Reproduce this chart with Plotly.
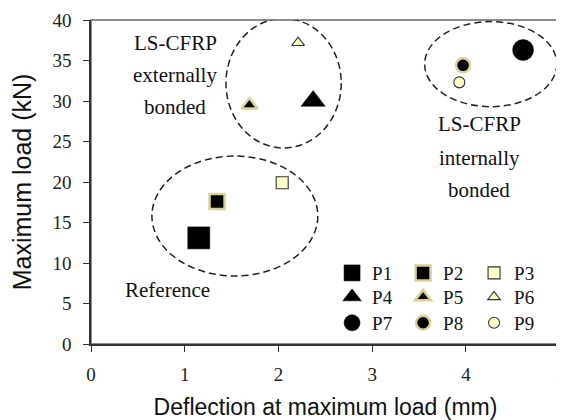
import plotly.graph_objects as go

# ---- data ----
names = ["P1", "P2", "P3", "P4", "P5", "P6", "P7", "P8", "P9"]
deflection = [1.15, 1.345, 2.04, 2.37, 1.69, 2.21, 4.61, 3.97, 3.93]
max_load = [13.1, 17.6, 19.9, 30.0, 29.5, 37.2, 36.3, 34.4, 32.3]

x_ticks = [0, 1, 2, 3, 4, 5]
y_ticks = [0, 5, 10, 15, 20, 25, 30, 35, 40]

# group outlines (data extents: x0, x1, y0, y1)
group_reference = (0.65, 2.42, 8.4, 23.2)
group_external = (1.44, 2.67, 24.2, 40.2)
group_internal = (3.56, 4.97, 29.3, 39.8)

# ---- styles ----
BEIGE = "#ffffc8"
RING = "#d8d19a"
symbols = ["square"] * 3 + ["triangle-up"] * 3 + ["circle"] * 3
sizes = [22, 15, 12, 21, 14, 11, 21, 14, 11]
fills = ["black", "black", BEIGE] * 3
line_colors = ["black", RING, "#333333"] * 3
line_widths = [0.5, 2.5, 1.1] * 3
legend_ids = ["legend"] * 3 + ["legend2"] * 3 + ["legend3"] * 3

SERIF = "Liberation Serif, Times New Roman, serif"
SANS = "Liberation Sans, Arial, sans-serif"

fig = go.Figure()
for i, n in enumerate(names):
    fig.add_trace(go.Scatter(
        x=[deflection[i]], y=[max_load[i]], mode="markers", name=n,
        legend=legend_ids[i],
        marker=dict(symbol=symbols[i], size=sizes[i], color=fills[i],
                    line=dict(color=line_colors[i], width=line_widths[i])),
    ))

for g in (group_reference, group_external, group_internal):
    fig.add_shape(type="circle", xref="x", yref="y",
                  x0=g[0], x1=g[1], y0=g[2], y1=g[3],
                  line=dict(color="#222222", width=1.5, dash="7px,4px"))

# frame (top/right lighter)
fig.add_shape(type="rect", xref="paper", yref="paper", x0=0, x1=1, y0=0, y1=1,
              line=dict(color="#8c8c8c", width=2), layer="below")

def note(text, x, y):
    fig.add_annotation(text=text, x=x, y=y, xref="x", yref="y", showarrow=False,
                       font=dict(family=SERIF, size=21, color="#111111"))

note("LS-CFRP", 0.90, 37.2)
note("externally", 0.90, 33.2)
note("bonded", 0.90, 29.3)
note("LS-CFRP", 4.14, 27.2)
note("internally", 4.14, 23.0)
note("bonded", 4.14, 19.0)
note("Reference", 0.82, 6.7)

leg_common = dict(orientation="h", x=0.514, xanchor="left", yanchor="middle",
                  bgcolor="rgba(0,0,0,0)", entrywidth=26, entrywidthmode="pixels",
                  font=dict(family=SERIF, size=19, color="#111111"),
                  itemclick=False, itemdoubleclick=False)

# page body has an 8px margin; size the figure so it fits the 564x420 window
fig.update_layout(
    template="none",
    width=556, height=412,
    margin=dict(l=83, r=4, t=12, b=76, autoexpand=False),
    paper_bgcolor="white", plot_bgcolor="white",
    showlegend=True,
    legend=dict(y=0.219, **leg_common),
    legend2=dict(y=0.145, **leg_common),
    legend3=dict(y=0.065, **leg_common),
    xaxis=dict(
        range=[0, 5.004], tickvals=x_ticks, ticktext=[str(v) for v in x_ticks],
        automargin=False, ticklabeloverflow="allow",
        showgrid=False, zeroline=False, showline=True, linecolor="#333333", linewidth=1.5,
        ticks="outside", ticklen=6, tickcolor="#333333", ticklabelstandoff=6,
        tickfont=dict(family=SERIF, size=19, color="#222222"),
        title=dict(text="Deflection at maximum load (mm)", standoff=16,
                   font=dict(family=SANS, size=23, color="#111111")),
    ),
    yaxis=dict(
        range=[0, 40], tickvals=y_ticks, ticktext=[str(v) for v in y_ticks],
        automargin=False, ticklabeloverflow="allow",
        showgrid=False, zeroline=False, showline=True, linecolor="#333333", linewidth=1.5,
        ticks="outside", ticklen=6, tickcolor="#333333", ticklabelstandoff=8,
        tickfont=dict(family=SERIF, size=19, color="#222222"),
        title=dict(text="Maximum load (kN)", standoff=16,
                   font=dict(family=SANS, size=25, color="#111111")),
    ),
)

fig.write_html("out.html")
